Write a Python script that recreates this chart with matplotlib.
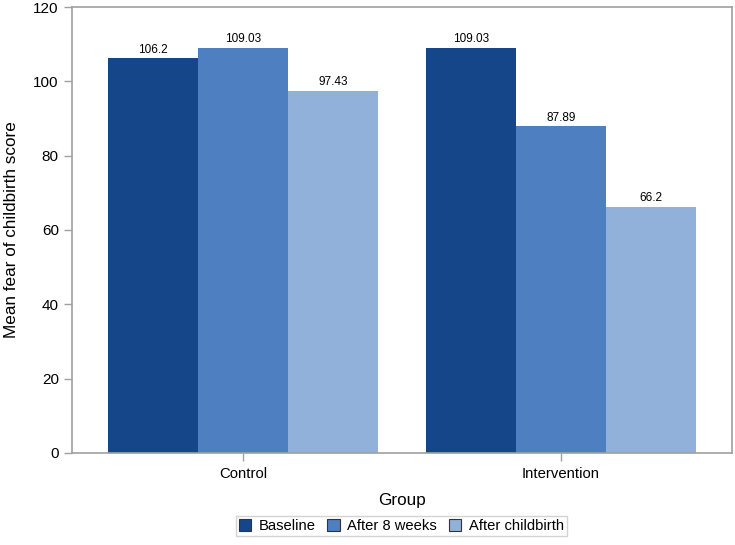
import numpy as np
import matplotlib
matplotlib.use("Agg")
import matplotlib.pyplot as plt
from matplotlib.patches import Patch

plt.rcParams['font.family'] = ['Liberation Sans', 'DejaVu Sans']

groups = ["Control", "Intervention"]
series = ["Baseline", "After 8 weeks", "After childbirth"]
baseline = [106.2, 109.03]
after_8_weeks = [109.03, 87.89]
after_childbirth = [97.43, 66.2]
labels = [["106.2", "109.03"], ["109.03", "87.89"], ["97.43", "66.2"]]

colors = ["#15468a", "#4e7fc0", "#92b1da"]
grey = "#a0a0a0"

fig = plt.figure(figsize=(7.35, 5.45), dpi=100)
ax = fig.add_axes([0.098, 0.169, 0.898, 0.818])

x = np.arange(len(groups))
w = 0.283
for i, (vals, c) in enumerate(zip([baseline, after_8_weeks, after_childbirth], colors)):
    pos = x + (i - 1) * w
    ax.bar(pos, vals, width=w, color=c, edgecolor="none", label=series[i])
    for p, v, t in zip(pos, vals, labels[i]):
        ax.text(p, v + 0.7, t, ha="center", va="bottom", fontsize=8.5)

ax.set_xlim(-0.538, 1.538)
ax.set_ylim(0, 120)
ax.set_yticks(range(0, 121, 20))
ax.set_xticks(x)
ax.set_xticklabels(groups, fontsize=10.7)
ax.tick_params(axis="y", labelsize=11, color=grey, length=6, width=1)
ax.tick_params(axis="x", color=grey, length=6, width=1, pad=4)
for s in ax.spines.values():
    s.set_color(grey)
    s.set_linewidth(1.2)

ax.set_ylabel("Mean fear of childbirth score", fontsize=12.3)
ax.yaxis.set_label_coords(-0.08, 0.5)
ax.set_xlabel("Group", fontsize=12.3, labelpad=9)

handles = [Patch(facecolor=c, edgecolor="#333333", linewidth=0.8, label=s) for c, s in zip(colors, series)]
leg = fig.legend(handles=handles, loc="lower center", bbox_to_anchor=(0.546, 0.003), ncol=3,
                 frameon=True, fontsize=10.6, handlelength=0.85, handleheight=0.85,
                 handletextpad=0.5, columnspacing=0.8, borderpad=0.2, fancybox=False)
leg.get_frame().set_edgecolor("#c8c8c8")

fig.savefig("out.png", dpi=100)
